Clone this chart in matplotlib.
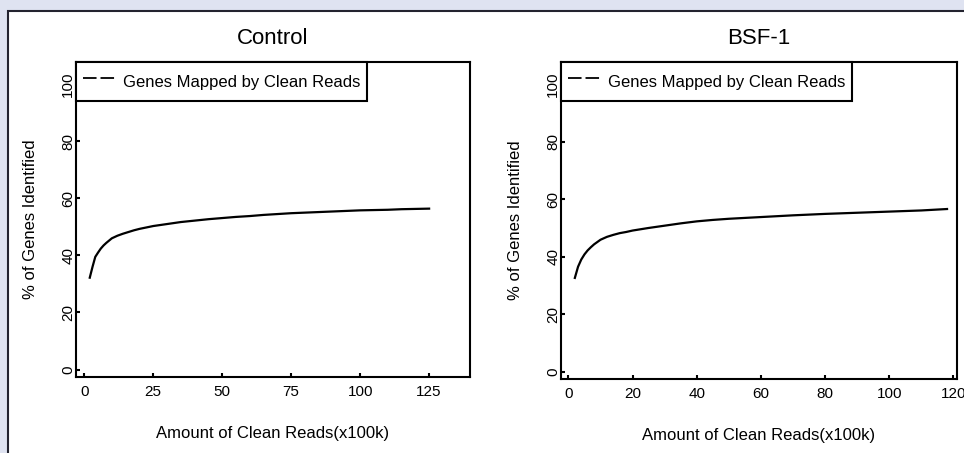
import matplotlib
matplotlib.use('Agg')
import matplotlib.pyplot as plt
from matplotlib.lines import Line2D
from matplotlib.patches import Rectangle

plt.rcParams['font.family'] = ['Liberation Sans', 'DejaVu Sans']

# Control: saturation curve
control_x = [2, 3, 4, 5, 6, 7, 8, 10, 12, 14, 16, 18, 20, 25, 30, 35, 40, 45,
             50, 55, 60, 65, 70, 75, 80, 85, 90, 95, 100, 105, 110, 115, 120, 125]
control_y = [32.2, 36.0, 39.5, 41.0, 42.4, 43.5, 44.4, 46.0, 46.9, 47.6, 48.2,
             48.8, 49.3, 50.3, 51.0, 51.7, 52.2, 52.7, 53.1, 53.5, 53.8, 54.2,
             54.5, 54.8, 55.0, 55.2, 55.4, 55.6, 55.8, 55.9, 56.0, 56.2, 56.3, 56.4]

# BSF-1: saturation curve
bsf_x = [2, 3, 4, 5, 6, 7, 8, 10, 12, 14, 16, 18, 20, 25, 30, 35, 40, 45, 50,
         60, 70, 80, 90, 100, 110, 118]
bsf_y = [32.6, 36.5, 39.0, 40.8, 42.2, 43.3, 44.3, 45.9, 46.9, 47.6, 48.2,
         48.6, 49.1, 50.0, 50.8, 51.6, 52.3, 52.8, 53.2, 53.8, 54.4, 54.9,
         55.3, 55.7, 56.1, 56.6]

titles = ['Control', 'BSF-1']
x_ticks = [[0, 25, 50, 75, 100, 125], [0, 20, 40, 60, 80, 100, 120]]
y_ticks = [0, 20, 40, 60, 80, 100]
legend_label = 'Genes Mapped by Clean Reads'
x_label = 'Amount of Clean Reads(x100k)'
y_label = '% of Genes Identified'

fig = plt.figure(figsize=(9.64, 4.53), dpi=100)
fig.patch.set_facecolor('#dfe3f1')
fig.patches.append(Rectangle((8 / 964, -0.05), 1.1, 1 - 11 / 453 + 0.05,
                             transform=fig.transFigure, facecolor='white',
                             edgecolor='#23232f', linewidth=1.5, zorder=-10))

positions = [[0.0788, 0.1678, 0.4087, 0.6954], [0.582, 0.1634, 0.4104, 0.6997]]
xlims = [(-3.0, 139.8), (-2.3, 121.0)]
series = [(control_x, control_y), (bsf_x, bsf_y)]

for i in range(2):
    ax = fig.add_axes(positions[i])
    ax.set_zorder(1)
    xs, ys = series[i]
    ax.plot(xs, ys, color='black', linewidth=1.6)
    ax.set_xlim(*xlims[i])
    ax.set_ylim(-2.6, 107.8)
    ax.set_xticks(x_ticks[i])
    ax.set_yticks(y_ticks)
    ax.tick_params(direction='in', length=3, width=1.5, labelsize=11,
                   colors='black')
    ax.tick_params(axis='x', pad=5.5)
    ax.tick_params(axis='y', pad=0.5)
    for lab in ax.get_yticklabels():
        lab.set_rotation(90)
        lab.set_va('center')
    for sp in ax.spines.values():
        sp.set_linewidth(1.5)
        sp.set_color('black')
    ax.set_title(titles[i], fontsize=16, pad=13)
    ax.set_xlabel(x_label, fontsize=12, labelpad=20)
    ax.set_ylabel(y_label, fontsize=12, labelpad=16.5)

    handle = Line2D([], [], color='black', linewidth=1.3, dashes=(7.5, 2.2))
    leg = ax.legend([handle], [legend_label], loc='upper left',
                    borderaxespad=0, fancybox=False, fontsize=12,
                    handlelength=2.0, handletextpad=0.4, borderpad=0.4,
                    handleheight=2.0)
    leg.get_frame().set_edgecolor('black')
    leg.get_frame().set_linewidth(1.5)
    leg.get_frame().set_alpha(1)

fig.savefig('out.png', dpi=100, facecolor=fig.get_facecolor())
